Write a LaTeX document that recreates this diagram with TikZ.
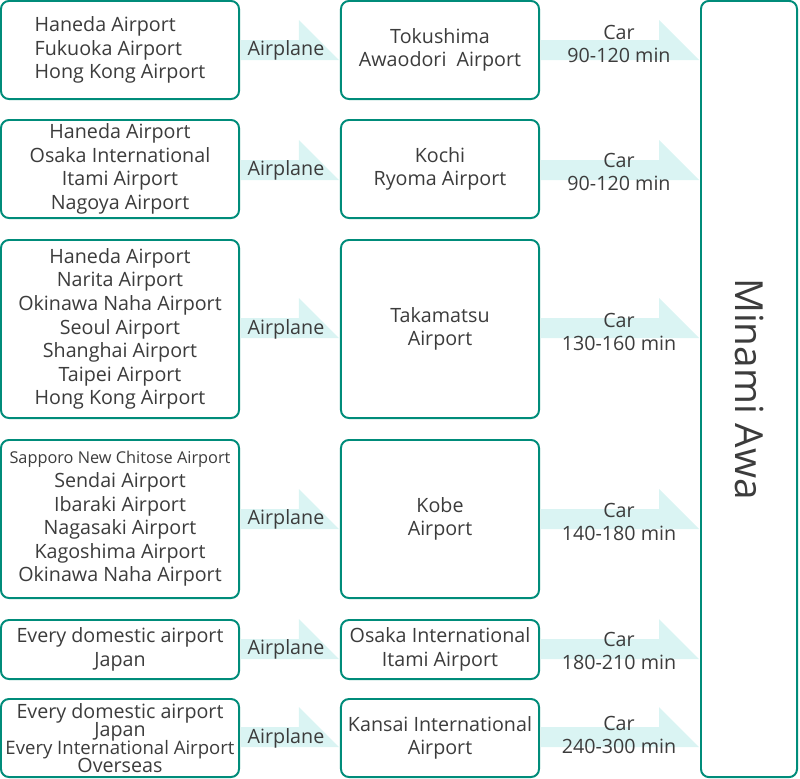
\documentclass[tikz,border=0pt]{standalone}
\usepackage{fontspec}
\setmainfont{Open Sans}
\usetikzlibrary{calc}
\definecolor{BoxTeal}{RGB}{0,140,122}
\definecolor{BandCyan}{RGB}{218,244,243}
\definecolor{TextGray}{RGB}{60,60,60}
\newcommand{\tightlines}{\fontsize{14}{12.8}\selectfont\lineskiplimit=-20pt\relax}
\tikzset{
  srcbox/.style={draw=BoxTeal,line width=1.4pt,rounded corners=2mm,fill=white,
    minimum width=5.95cm,inner sep=0pt,align=center,text=TextGray,
    font=\fontsize{14}{16.8}\selectfont},
  portbox/.style={srcbox,minimum width=4.95cm},
  destbox/.style={srcbox,minimum width=2.4cm,minimum height=19.4cm},
  destlabel/.style={rotate=-90,inner sep=0pt,text=TextGray,
    font=\fontsize{27.5}{32}\selectfont},
  bandlabel/.style={inner sep=0pt,align=center,text=TextGray,
    font=\fontsize{14}{16.8}\selectfont},
  band/.style={fill=BandCyan},
}
% flat arrow with its head raised above the band
\newcommand{\bandarrow}[3]{%
  \fill[band] ($(#1.east |- 0,#3)+(1,-10)$)
    -- ($(#2.west |- 0,#3)+(-41,-10)$) -- ++(0,-20)
    -- ($(#2.west |- 0,#3)+(-1,10)$)
    -- ($(#1.east |- 0,#3)+(1,10)$) -- cycle;}

\begin{document}
\begin{tikzpicture}[x=0.025cm,y=-0.025cm]
  \useasboundingbox (0,0) rectangle (800,778);

  % where the trip starts
  \node[srcbox,minimum height=2.45cm,align=left] (src1) at (120,50)
    {Haneda Airport\\Fukuoka Airport\\Hong Kong Airport};
  \node[srcbox,minimum height=2.45cm] (src2) at (120,169)
    {Haneda Airport\\Osaka International\\Itami Airport\\Nagoya Airport};
  \node[srcbox,minimum height=4.45cm] (src3) at (120,329)
    {Haneda Airport\\Narita Airport\\Okinawa Naha Airport\\Seoul Airport\\
     Shanghai Airport\\Taipei Airport\\Hong Kong Airport};
  \node[srcbox,minimum height=3.95cm] (src4) at (120,519)
    {{\fontsize{11.6}{13}\selectfont Sapporo New Chitose Airport}\\Sendai Airport\\
     Ibaraki Airport\\Nagasaki Airport\\Kagoshima Airport\\Okinawa Naha Airport};
  \node[srcbox,minimum height=1.475cm] (src5) at (120,649.5)
    {Every domestic airport\\Japan};
  \node[srcbox,minimum height=1.95cm,font=\tightlines] (src6) at (120,738)
    {Every domestic airport\\Japan\\{\fontsize{13.2}{12.8}\selectfont Every International Airport}\\Overseas};

  % airports on Shikoku and Kansai
  \node[portbox,minimum height=2.45cm] (port1) at (440,50)
    {Tokushima\\Awaodori~ Airport};
  \node[portbox,minimum height=2.45cm] (port2) at (440,169) {Kochi\\Ryoma Airport};
  \node[portbox,minimum height=4.45cm] (port3) at (440,329) {Takamatsu\\Airport};
  \node[portbox,minimum height=3.95cm] (port4) at (440,519) {Kobe\\Airport};
  \node[portbox,minimum height=1.475cm] (port5) at (440,649.5)
    {Osaka International\\Itami Airport};
  \node[portbox,minimum height=1.95cm] (port6) at (440,738)
    {Kansai International\\Airport};

  \node[destbox] (awa) at (749,389) {};
  \node[destlabel] (awaname) at (awa.center) {Minami Awa};

  % airplane legs
  \bandarrow{src1}{port1}{50}
  \bandarrow{src2}{port2}{170}
  \bandarrow{src3}{port3}{328}
  \bandarrow{src4}{port4}{519}
  \bandarrow{src5}{port5}{649}
  \bandarrow{src6}{port6}{737}
  % car legs
  \bandarrow{port1}{awa}{50}
  \bandarrow{port2}{awa}{170}
  \bandarrow{port3}{awa}{328}
  \bandarrow{port4}{awa}{519}
  \bandarrow{port5}{awa}{649}
  \bandarrow{port6}{awa}{737}

  \node[bandlabel] (plane1) at (286,50) {Airplane};
  \node[bandlabel] (plane2) at (286,170) {Airplane};
  \node[bandlabel] (plane3) at (286,329) {Airplane};
  \node[bandlabel] (plane4) at (286,519) {Airplane};
  \node[bandlabel] (plane5) at (286,649) {Airplane};
  \node[bandlabel] (plane6) at (286,738) {Airplane};

  \node[bandlabel] (car1) at (619,44) {Car\\90-120 min};
  \node[bandlabel] (car2) at (619,172) {Car\\90-120 min};
  \node[bandlabel] (car3) at (619,332) {Car\\130-160 min};
  \node[bandlabel] (car4) at (619,522) {Car\\140-180 min};
  \node[bandlabel] (car5) at (619,651) {Car\\180-210 min};
  \node[bandlabel] (car6) at (619,735) {Car\\240-300 min};
\end{tikzpicture}
\end{document}
